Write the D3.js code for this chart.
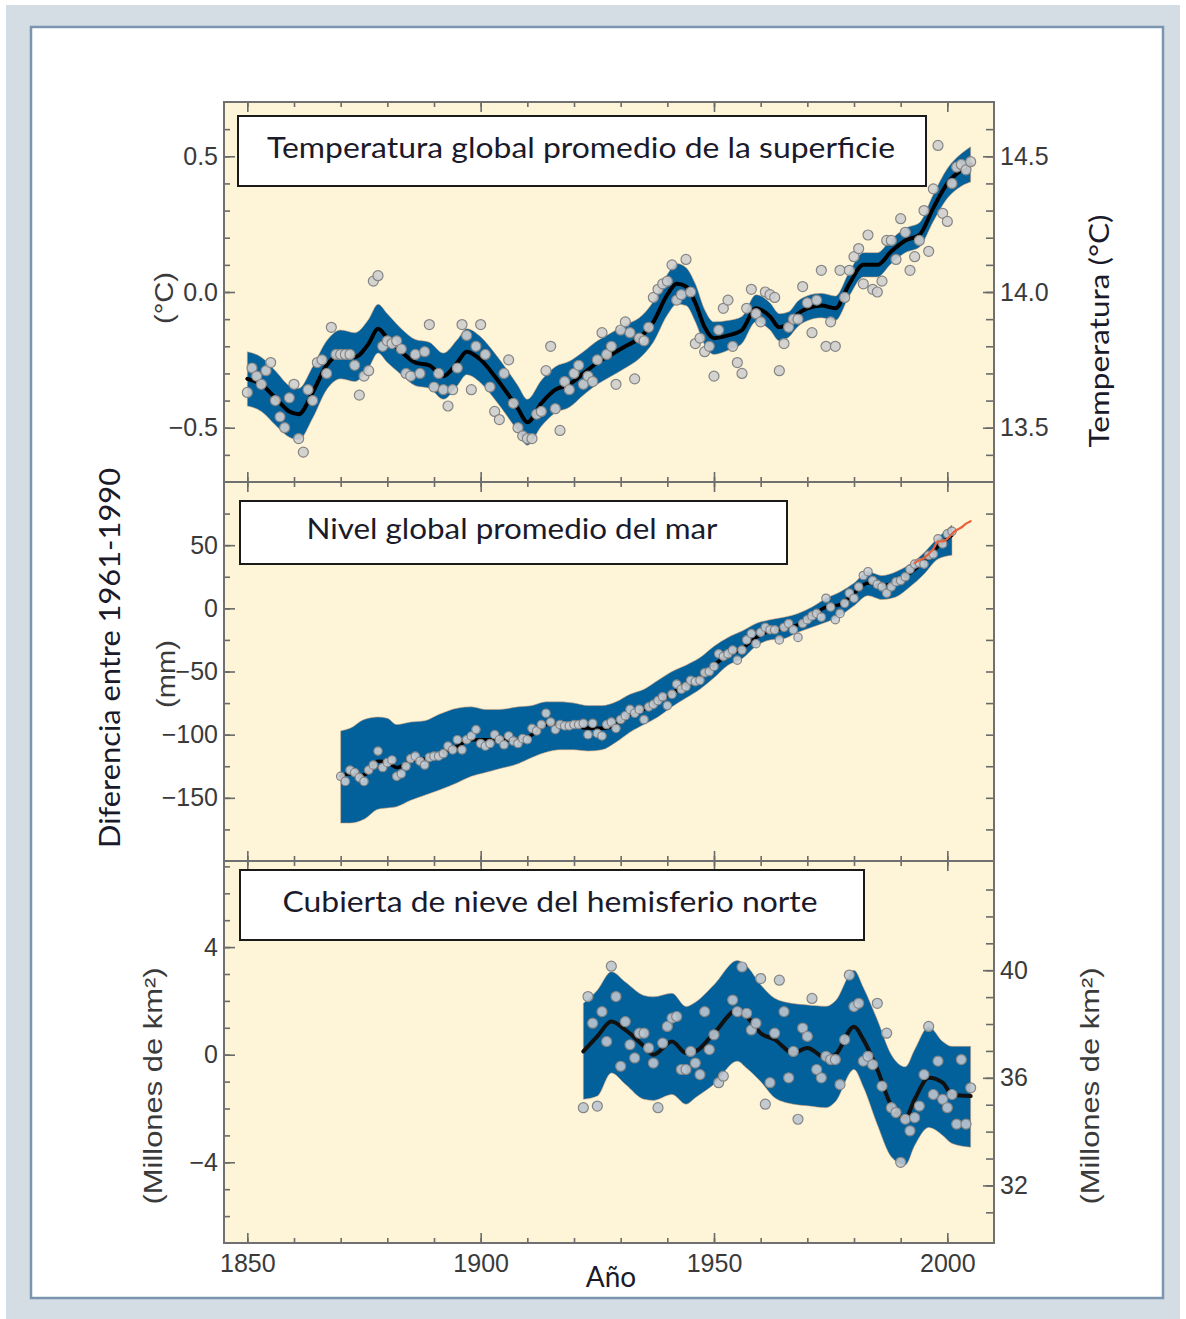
<!DOCTYPE html>
<html>
<head>
<meta charset="utf-8">
<script src="https://cdn.jsdelivr.net/npm/d3@7"></script>
<style>
  body { margin: 0; background: #fff; }
  svg { display: block; }
</style>
</head>
<body>
<svg id="chart" width="1186" height="1319"></svg>
<script>
// ---- data ----
const tempYears = d3.range(1850, 2006)
const tempValues = [
  -0.37, -0.28, -0.31, -0.34, -0.29, -0.26, -0.40, -0.46, -0.50, -0.39,
  -0.34, -0.54, -0.59, -0.36, -0.40, -0.26, -0.25, -0.30, -0.13, -0.23,
  -0.23, -0.23, -0.23, -0.27, -0.38, -0.31, -0.29, 0.04, 0.06, -0.20,
  -0.18, -0.19, -0.18, -0.21, -0.30, -0.31, -0.23, -0.30, -0.22, -0.12,
  -0.35, -0.30, -0.36, -0.42, -0.36, -0.28, -0.12, -0.16, -0.36, -0.20,
  -0.12, -0.23, -0.35, -0.44, -0.47, -0.30, -0.25, -0.41, -0.50, -0.53,
  -0.54, -0.54, -0.45, -0.44, -0.29, -0.20, -0.43, -0.51, -0.33, -0.36,
  -0.30, -0.27, -0.34, -0.31, -0.33, -0.25, -0.15, -0.23, -0.20, -0.34,
  -0.14, -0.11, -0.15, -0.32, -0.17, -0.18, -0.13, -0.02, 0.01, 0.03,
  0.04, 0.10, -0.03, -0.01, 0.12, 0.00, -0.19, -0.17, -0.22, -0.20,
  -0.31, -0.14, -0.06, -0.03, -0.20, -0.26, -0.30, -0.06, 0.01, -0.08,
  -0.11, 0.00, -0.01, -0.02, -0.29, -0.19, -0.13, -0.10, -0.10, 0.02,
  -0.04, -0.15, -0.03, 0.08, -0.20, -0.11, -0.20, 0.08, -0.02, 0.08,
  0.13, 0.16, 0.03, 0.21, 0.01, 0.00, 0.04, 0.19, 0.19, 0.12,
  0.27, 0.22, 0.08, 0.13, 0.19, 0.30, 0.15, 0.38, 0.54, 0.29,
  0.26, 0.40, 0.46, 0.47, 0.45, 0.48
]
const tempSmoothYears = [1850, 1853, 1856, 1859, 1861, 1864, 1867, 1870, 1873, 1876, 1878, 1880, 1883, 1886, 1889, 1892, 1895, 1897, 1900, 1903, 1906, 1908, 1910, 1913, 1916, 1919, 1922, 1925, 1928, 1931, 1934, 1937, 1940, 1942, 1944, 1946, 1948, 1950, 1953, 1956, 1959, 1962, 1964, 1966, 1968, 1970, 1973, 1976, 1979, 1982, 1985, 1988, 1991, 1994, 1997, 2000, 2003, 2005]
const tempSmooth = [-0.32, -0.34, -0.39, -0.44, -0.45, -0.37, -0.27, -0.23, -0.24, -0.19, -0.135, -0.17, -0.22, -0.26, -0.27, -0.31, -0.26, -0.22, -0.25, -0.31, -0.38, -0.43, -0.48, -0.41, -0.36, -0.34, -0.30, -0.26, -0.23, -0.20, -0.17, -0.11, -0.01, 0.03, 0.02, -0.04, -0.13, -0.17, -0.16, -0.14, -0.06, -0.09, -0.13, -0.12, -0.08, -0.06, -0.05, -0.06, 0.03, 0.10, 0.10, 0.15, 0.19, 0.21, 0.31, 0.40, 0.45, 0.47]
const tempSpread = [0.10, 0.10, 0.10, 0.095, 0.095, 0.095, 0.09, 0.09, 0.09, 0.09, 0.09, 0.09, 0.085, 0.085, 0.085, 0.085, 0.085, 0.085, 0.085, 0.085, 0.085, 0.085, 0.085, 0.085, 0.085, 0.085, 0.08, 0.08, 0.08, 0.08, 0.075, 0.075, 0.075, 0.075, 0.07, 0.07, 0.065, 0.06, 0.055, 0.05, 0.05, 0.05, 0.05, 0.047, 0.047, 0.046, 0.045, 0.045, 0.045, 0.045, 0.045, 0.045, 0.045, 0.045, 0.05, 0.055, 0.06, 0.065]

const seaYears = d3.range(1870, 2002)
const seaValues = [
  -133, -137, -128, -130, -134, -137, -128, -124, -113, -126,
  -122, -120, -133, -131, -125, -119, -117, -121, -124, -118,
  -117, -117, -115, -109, -112, -104, -112, -104, -101, -96,
  -107, -109, -107, -100, -104, -108, -101, -105, -107, -103,
  -104, -95, -97, -92, -83, -90, -96, -92, -93, -93,
  -92, -92, -91, -100, -91, -99, -101, -92, -90, -95,
  -88, -85, -80, -83, -80, -88, -78, -76, -73, -70,
  -77, -68, -60, -64, -62, -57, -58, -57, -51, -50,
  -46, -36, -38, -36, -33, -41, -33, -25, -20, -28,
  -19, -15, -17, -17, -25, -15, -12, -17, -23, -12,
  -9, -6, -4, -7, 8, 1, -9, -4, 4, 12,
  8, 17, 26, 29, 22, 19, 17, 12, 17, 21,
  22, 25, 31, 35, 36, 35, 42, 43, 55, 51,
  59, 61
]
const seaSmoothYears = [1870, 1872, 1875, 1878, 1880, 1882, 1885, 1888, 1891, 1895, 1898, 1901, 1904, 1908, 1911, 1914, 1917, 1920, 1923, 1926, 1929, 1932, 1935, 1938, 1941, 1944, 1947, 1950, 1953, 1956, 1959, 1962, 1965, 1968, 1971, 1974, 1977, 1980, 1983, 1986, 1989, 1992, 1995, 1998, 2001]
const seaSmooth = [-133, -131, -132, -121, -122, -126, -121, -119, -116, -109, -104, -104, -104, -105, -100, -92, -92, -93, -95, -95, -92, -84, -80, -74, -67, -61, -55, -45, -37, -32, -23, -18, -16, -13, -6, 1, 3, 12, 20, 18, 21, 28, 37, 49, 58]
const seaUpper = [-97, -95, -88, -86, -87, -92, -90, -89, -84, -79, -78, -80, -80, -78, -77, -74, -74, -75, -77, -77, -74, -68, -64, -57, -50, -45, -39, -30, -23, -18, -12, -9, -7, -4, 1, 8, 13, 20, 29, 26, 29, 35, 44, 56, 66]
const seaLower = [-170, -170, -167, -159, -158, -157, -152, -148, -144, -138, -133, -130, -127, -123, -118, -114, -112, -112, -113, -112, -106, -98, -92, -86, -78, -71, -64, -55, -45, -40, -30, -25, -24, -19, -15, -11, -6, 2, 10, 7, 9, 17, 27, 39, 42]
const satYears = d3.range(1993, 2006)
const satValues = [36, 38, 40, 43, 47, 53, 53, 55, 59, 62, 64, 67, 69]

const snowYears = d3.range(1922, 1953).concat(d3.range(1954, 2006))
const snowValues = [
  -1.97, 2.16, 1.17, -1.91, 1.60, 0.49, 3.29, 2.16, -0.43, 1.23,
  0.37, -0.12, 0.80, 0.80, 0.25, -0.31, -1.97, 0.43, 1.05, 1.36,
  1.42, -0.55, -0.55, 0.12, -0.31, -0.74, 1.60, 0.19, 0.74, -1.04,
  -0.80,
  2.03, 1.60, 3.26, 1.54, 0.92, 1.17, 2.83, -1.84, -1.04, 0.80,
  2.77, 1.60, -0.86, 0.12, -2.40, 0.99, 0.68, 2.09, -0.55, -0.86,
  -0.06, -0.18, -0.18, -1.11, 0.56, 2.96, 1.79, 1.91, -0.24, -0.06,
  -0.37, 1.91, -1.17, 0.80, -1.97, -2.15, -4.00, -2.40, -2.83, -2.34,
  -1.91, -0.74, 1.05, -1.48, -0.24, -1.66, -1.97, -1.48, -2.58, -0.18,
  -2.58, -1.23
]
const snowSmoothYears = [1922, 1925, 1928, 1931, 1935, 1937, 1941, 1944, 1946, 1950, 1955, 1957, 1960, 1963, 1967, 1970, 1974, 1976, 1980, 1982, 1985, 1988, 1991, 1993, 1996, 1999, 2001, 2005]
const snowSmooth = [0.12, 0.68, 1.23, 0.92, 0.31, 0.0, 0.49, 0.06, 0.12, 0.8, 1.66, 1.42, 0.8, 0.56, 0.06, 0.25, -0.12, 0.0, 1.04, 0.56, -0.55, -1.9, -2.34, -1.66, -0.86, -1.04, -1.48, -1.54]
const snowUpper = [1.91, 2.4, 3.08, 2.7, 2.2, 2.15, 2.28, 1.79, 1.95, 2.6, 3.5, 3.3, 2.6, 2.1, 1.9, 1.85, 1.8, 2.0, 3.14, 2.5, 1.3, 0.0, -0.45, 0.19, 1.04, 0.49, 0.31, 0.31]
const snowLower = [-1.66, -1.54, -0.68, -1.1, -1.66, -1.7, -1.48, -1.84, -1.6, -1.1, -0.24, -0.5, -1.0, -1.6, -1.84, -1.9, -1.97, -1.75, -0.55, -1.2, -2.6, -3.8, -4.1, -3.38, -2.71, -3.0, -3.3, -3.44]

const xMajor = [1850, 1900, 1950, 2000]
const xMinor = d3.range(1850, 2001, 10)

// ---- layout ----
const svg = d3.select('#chart')
const left = 224, right = 994
const bandColor = '#02609b'
const tickColor = '#6a6a6a'
const labelColor = '#3a3a3a'
const numFont = '"Liberation Sans", Arial, sans-serif'
const textFont = 'Lato, "Open Sans", sans-serif'

svg.append('rect').attr('x', 6).attr('y', 5).attr('width', 1174).attr('height', 1314).attr('fill', '#d4dce4')
svg.append('rect')
  .attr('x', 31).attr('y', 27).attr('width', 1132).attr('height', 1271)
  .attr('fill', '#fff').attr('stroke', '#7b95ae').attr('stroke-width', 2.5)

const x = d3.scaleLinear().domain([1845, 2010]).range([left, right])

const panels = [
  {
    id: 'temp', top: 102, bottom: 482, domain: [-0.7, 0.7],
    major: [-0.5, 0, 0.5], minor: d3.range(-6, 7).map(d => d / 10), fmt: d3.format('.1f'),
    right: { domain: [13.3, 14.7], major: [13.5, 14.0, 14.5], minor: d3.range(134, 147).map(d => d / 10), fmt: d3.format('.1f') }
  },
  {
    id: 'sea', top: 482, bottom: 861, domain: [-200, 100],
    major: [-150, -100, -50, 0, 50], minor: d3.range(-175, 100, 25), fmt: d3.format('d'),
    right: { domain: [-200, 100], major: [], minor: d3.range(-175, 100, 25), fmt: null }
  },
  {
    id: 'snow', top: 861, bottom: 1243, domain: [-7, 7.2],
    major: [-4, 0, 4], minor: d3.range(-6, 8), fmt: d3.format('d'),
    right: { domain: [29.86, 44.06], major: [32, 36, 40], minor: d3.range(31, 44), fmt: d3.format('d') }
  }
]
panels.forEach(p => {
  p.y = d3.scaleLinear().domain(p.domain).range([p.bottom, p.top])
  p.y2 = d3.scaleLinear().domain(p.right.domain).range([p.bottom, p.top])
})

// plot background
svg.append('rect')
  .attr('x', left).attr('y', 102).attr('width', right - left).attr('height', 1243 - 102)
  .attr('fill', '#fef5d8')

const defs = svg.append('defs')
panels.forEach(p => {
  defs.append('clipPath').attr('id', 'clip-' + p.id)
    .append('rect').attr('x', left).attr('y', p.top).attr('width', right - left).attr('height', p.bottom - p.top)
})

const drawBand = (p, years, lo, hi) => {
  const area = d3.area()
    .x(i => x(years[i]))
    .y0(i => p.y(lo[i]))
    .y1(i => p.y(hi[i]))
    .curve(d3.curveMonotoneX)
  p.g.append('path')
    .attr('d', area(d3.range(years.length)))
    .attr('fill', bandColor)
    .attr('stroke', '#d8a27a').attr('stroke-width', 0.8).attr('stroke-opacity', 0.7)
}
const drawLine = (p, years, vals, color, w) => {
  const line = d3.line().x(i => x(years[i])).y(i => p.y(vals[i])).curve(d3.curveMonotoneX)
  p.g.append('path')
    .attr('d', line(d3.range(years.length)))
    .attr('fill', 'none').attr('stroke', color).attr('stroke-width', w)
    .attr('stroke-linejoin', 'round').attr('stroke-linecap', 'round')
}
const drawDots = (p, years, vals, r, fill) => {
  p.g.append('g').selectAll('circle')
    .data(vals)
    .enter()
      .append('circle')
      .attr('cx', (d, i) => x(years[i]))
      .attr('cy', d => p.y(d))
      .attr('r', r)
      .attr('fill', fill)
      .attr('fill-opacity', 0.9)
      .attr('stroke', '#858585')
      .attr('stroke-width', 1.2)
}

panels.forEach(p => {
  p.g = svg.append('g').attr('clip-path', `url(#clip-${p.id})`)
})

// temperature
drawBand(panels[0], tempSmoothYears, tempSmooth.map((d, i) => d - tempSpread[i]), tempSmooth.map((d, i) => d + tempSpread[i]))
drawLine(panels[0], tempSmoothYears, tempSmooth, '#000', 4)
drawDots(panels[0], tempYears, tempValues, 5, '#cfcfcf')

// sea level
drawBand(panels[1], seaSmoothYears, seaLower, seaUpper)
drawLine(panels[1], seaSmoothYears, seaSmooth, '#000', 3.5)
drawDots(panels[1], seaYears, seaValues, 4.2, '#c9ced4')
drawLine(panels[1], satYears, satValues, '#e8603c', 2.2)

// snow cover
drawBand(panels[2], snowSmoothYears, snowLower, snowUpper)
drawLine(panels[2], snowSmoothYears, snowSmooth, '#111', 4)
drawDots(panels[2], snowYears, snowValues, 5, '#bcc6d0')

// ---- axes ----
const styleAxis = (g) => {
  g.select('.domain').remove()
  g.selectAll('line').attr('stroke', tickColor).attr('stroke-width', 1.6)
  g.selectAll('text')
    .attr('fill', labelColor)
    .style('font-family', numFont)
    .style('font-size', '25px')
}

panels.forEach((p, k) => {
  // left
  svg.append('g').attr('transform', `translate(${left},0)`)
    .call(d3.axisLeft(p.y).tickValues(p.minor).tickSize(-6).tickFormat(''))
    .call(styleAxis)
  svg.append('g').attr('transform', `translate(${left},0)`)
    .call(d3.axisLeft(p.y).tickValues(p.major).tickSize(-11).tickPadding(6).tickFormat(p.fmt))
    .call(styleAxis)
  // right
  svg.append('g').attr('transform', `translate(${right},0)`)
    .call(d3.axisRight(p.y2).tickValues(p.right.minor).tickSize(-8).tickFormat(''))
    .call(styleAxis)
  if (p.right.major.length) {
    svg.append('g').attr('transform', `translate(${right},0)`)
      .call(d3.axisRight(p.y2).tickValues(p.right.major).tickSize(-11).tickPadding(6).tickFormat(p.right.fmt))
      .call(styleAxis)
  }
  // top and bottom
  svg.append('g').attr('transform', `translate(0,${p.top})`)
    .call(d3.axisTop(x).tickValues(xMinor).tickSize(-5).tickFormat(''))
    .call(styleAxis)
  svg.append('g').attr('transform', `translate(0,${p.top})`)
    .call(d3.axisTop(x).tickValues(xMajor).tickSize(-10).tickFormat(''))
    .call(styleAxis)
  svg.append('g').attr('transform', `translate(0,${p.bottom})`)
    .call(d3.axisBottom(x).tickValues(xMinor).tickSize(-5).tickFormat(''))
    .call(styleAxis)
  svg.append('g').attr('transform', `translate(0,${p.bottom})`)
    .call(d3.axisBottom(x).tickValues(xMajor).tickSize(-10).tickPadding(11)
      .tickFormat(k === 2 ? d3.format('d') : ''))
    .call(styleAxis)
})

// frame
svg.append('rect')
  .attr('x', left).attr('y', 102).attr('width', right - left).attr('height', 1243 - 102)
  .attr('fill', 'none').attr('stroke', '#707070').attr('stroke-width', 2)
;[482, 861].forEach(yy => {
  svg.append('line').attr('x1', left).attr('x2', right).attr('y1', yy).attr('y2', yy)
    .attr('stroke', '#707070').attr('stroke-width', 2)
})

// ---- title boxes ----
const titles = [
  { text: 'Temperatura global promedio de la superficie', x0: 238, x1: 926, y0: 116, y1: 186, cx: 581, len: 628 },
  { text: 'Nivel global promedio del mar', x0: 240, x1: 787, y0: 501, y1: 564, cx: 512, len: 411 },
  { text: 'Cubierta de nieve del hemisferio norte', x0: 240, x1: 864, y0: 870, y1: 940, cx: 550, len: 535 }
]
titles.forEach(t => {
  svg.append('rect')
    .attr('x', t.x0).attr('y', t.y0).attr('width', t.x1 - t.x0).attr('height', t.y1 - t.y0)
    .attr('fill', '#fff').attr('stroke', '#1a1a1a').attr('stroke-width', 2)
  svg.append('text')
    .attr('x', t.cx).attr('y', (t.y0 + t.y1) / 2 - 3)
    .attr('dy', '0.35em')
    .attr('text-anchor', 'middle')
    .attr('textLength', t.len).attr('lengthAdjust', 'spacingAndGlyphs')
    .style('font-family', textFont).style('font-size', '28px')
    .attr('fill', '#1a1a2a')
    .text(t.text)
})

// ---- axis titles ----
const vLabel = (txt, cx, cy, len, font, size, color) => {
  svg.append('text')
    .attr('transform', `translate(${cx},${cy}) rotate(-90)`)
    .attr('dy', '0.35em')
    .attr('text-anchor', 'middle')
    .attr('textLength', len).attr('lengthAdjust', 'spacingAndGlyphs')
    .style('font-family', font).style('font-size', size + 'px')
    .attr('fill', color)
    .text(txt)
}
vLabel('(°C)', 164, 298, 52, numFont, 25, labelColor)
vLabel('(mm)', 166, 674, 68, numFont, 25, labelColor)
vLabel('(Millones de km²)', 153, 1086, 237, numFont, 26, labelColor)
vLabel('(Millones de km²)', 1090, 1086, 237, numFont, 26, labelColor)
vLabel('Temperatura (°C)', 1100, 331, 233, textFont, 27, '#1a1a2a')
vLabel('Diferencia entre 1961-1990', 110, 658, 380, textFont, 28, '#1a1a2a')

svg.append('text')
  .attr('x', 611).attr('y', 1277).attr('dy', '0.35em')
  .attr('text-anchor', 'middle')
  .style('font-family', textFont).style('font-size', '28px')
  .attr('fill', '#1a1a2a')
  .text('Año')
</script>
</body>
</html>
